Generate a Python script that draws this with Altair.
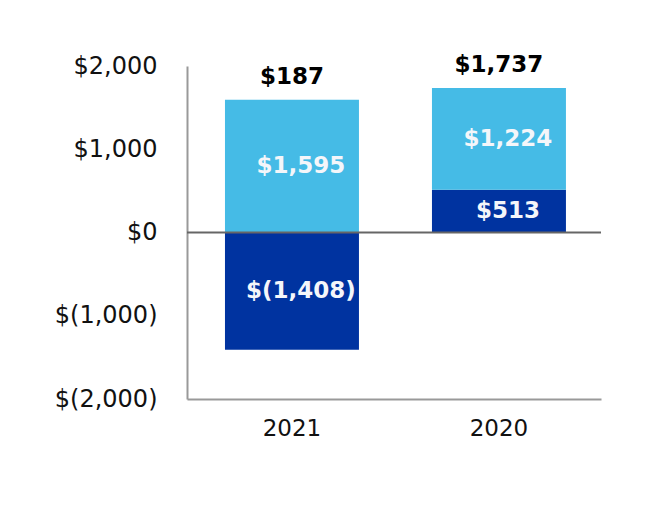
import altair as alt
import pandas as pd

years = ["2021", "2020"]
dark_vals = [-1408, 513]
light_vals = [1595, 1224]
totals = [187, 1737]

DARK = "#0033A0"
LIGHT = "#45BBE6"

def fmt(v):
    s = "${:,}".format(abs(v))
    return "$({:,})".format(abs(v)) if v < 0 else s

rows = []
tops = []
for y, d, l in zip(years, dark_vals, light_vals):
    if d < 0:
        d0, d1 = d, 0
        l0, l1 = 0, l
    else:
        d0, d1 = 0, d
        l0, l1 = d, d + l
    rows.append({"year": y, "seg": "dark", "y0": d0, "y1": d1, "mid": (d0 + d1) / 2, "label": fmt(d)})
    rows.append({"year": y, "seg": "light", "y0": l0, "y1": l1, "mid": (l0 + l1) / 2, "label": fmt(l)})
    tops.append(max(d1, l1))
df = pd.DataFrame(rows)
tot = pd.DataFrame({"year": years, "top": tops, "label": [fmt(t) for t in totals]})

xenc = alt.X("year:N", sort=years, title=None,
             scale=alt.Scale(paddingInner=0.3527, paddingOuter=0.1764, align=0.52),
             axis=alt.Axis(labelAngle=0, labelFontSize=23, labelFont="DejaVu Sans",
                           labelColor="#111", ticks=False, labelPadding=18,
                           domainColor="#999", domainWidth=2))
yscale = alt.Scale(domain=[-2000, 2000], nice=False)

bars = alt.Chart(df).mark_bar().encode(
    x=xenc,
    y=alt.Y("y0:Q", scale=yscale, title=None,
            axis=alt.Axis(values=[-2000, -1000, 0, 1000, 2000], grid=False, ticks=False,
                          labelFontSize=24, labelFont="DejaVu Sans", labelColor="#111",
                          labelPadding=30, domainColor="#999", domainWidth=2,
                          labelExpr="datum.value < 0 ? '$(' + format(abs(datum.value), ',') + ')' : '$' + format(datum.value, ',')")),
    y2="y1:Q",
    color=alt.Color("seg:N", scale=alt.Scale(domain=["dark", "light"], range=[DARK, LIGHT]), legend=None),
)

seg_text = alt.Chart(df).mark_text(font="DejaVu Sans", fontSize=23, fontWeight="bold",
                                   color="#F4F6FA", baseline="middle", dx=9).encode(
    x=alt.X("year:N", sort=years),
    y=alt.Y("mid:Q", scale=yscale),
    text="label:N",
)

zero = alt.Chart(pd.DataFrame({"z": [0]})).mark_rule(color="#666", strokeWidth=2).encode(
    y=alt.Y("z:Q", scale=yscale)
)

tot_text = alt.Chart(tot).mark_text(font="DejaVu Sans", fontSize=23, fontWeight="bold",
                                    color="#000", baseline="bottom", dy=-11).encode(
    x=alt.X("year:N", sort=years),
    y=alt.Y("top:Q", scale=yscale),
    text="label:N",
)

chart = alt.layer(bars, zero, seg_text, tot_text).properties(
    width=414, height=333,
    autosize=alt.AutoSizeParams(type="none"),
    padding={"left": 179, "top": 58, "right": 50, "bottom": 90},
).configure_view(stroke=None)

chart.save("out.html", embed_options={"renderer": "svg", "actions": False})
